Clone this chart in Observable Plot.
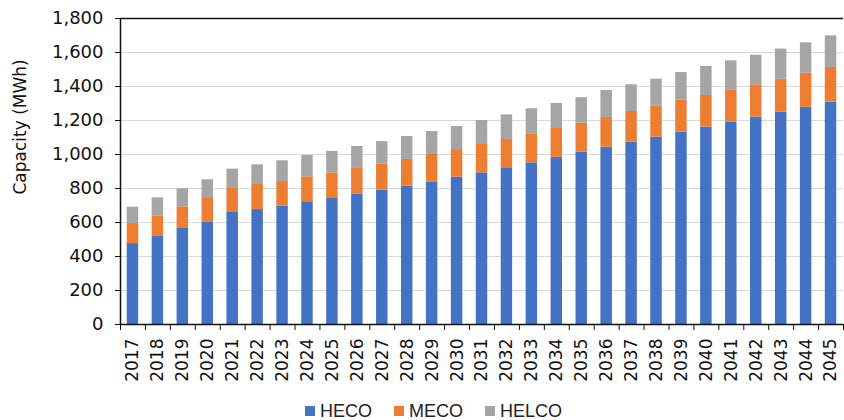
<!DOCTYPE html>
<html>
<head>
<meta charset="utf-8">
<script src="https://cdn.jsdelivr.net/npm/d3@7"></script>
<script src="https://cdn.jsdelivr.net/npm/@observablehq/plot@0.6"></script>
<style>
  body { margin: 0; background: #fff; }
  #chart { width: 844px; height: 420px; position: relative; }
  .legend { display: flex; align-items: center; height: 18px; padding-top: 2px;
            position: absolute; top: 400px; left: 305px;
            font-family: "Liberation Sans", Arial, sans-serif; font-size: 18px; color: #222; }
  .legend .item { display: flex; align-items: center; margin-right: 22px; }
  .legend .sw { width: 10px; height: 10px; margin-right: 5px; }
</style>
</head>
<body>
<div id="chart"></div>
<script>
const years = ["2017","2018","2019","2020","2021","2022","2023","2024","2025","2026","2027","2028","2029","2030","2031","2032","2033","2034","2035","2036","2037","2038","2039","2040","2041","2042","2043","2044","2045"];
const seriesNames = ["HECO", "MECO", "HELCO"];
const seriesColors = ["#4472C4", "#ED7D31", "#A5A5A5"];
const heco  = [476,518,565,604,659,676,696,722,741,767,790,814,839,867,892,922,951,984,1014,1043,1073,1102,1131,1161,1190,1220,1249,1278,1308];
const meco  = [118,119,127,137,141,148,145,147,151,151,155,157,161,162,167,166,171,169,171,175,180,182,188,186,190,190,194,200,204];
const helco = [96,108,106,110,114,115,122,125,126,129,131,135,135,136,141,145,147,147,149,158,157,159,163,171,171,174,177,179,186];
const yTicks = [0,200,400,600,800,1000,1200,1400,1600,1800];
const yLabel = "Capacity (MWh)";

const seriesValues = [heco, meco, helco];
const table = [];
seriesNames.forEach((s, k) => years.forEach((y, i) => table.push({year: y, series: s, value: seriesValues[k][i]})));

const W = 844, mL = 120, mR = 1;
const half = (W - mL - mR) / years.length / 2;

const plot = Plot.plot({
  width: W,
  height: 390,
  marginTop: 18,
  marginBottom: 66,
  marginLeft: mL,
  marginRight: mR,
  style: {fontFamily: "DejaVu Sans, sans-serif", fontSize: "18px", color: "#111", background: "#fff"},
  x: {domain: years, paddingInner: 0.54, paddingOuter: 0.27, round: false, label: null},
  y: {domain: [0, 1800], ticks: yTicks, label: null},
  color: {domain: seriesNames, range: seriesColors},
  marks: [
    Plot.gridY(yTicks.slice(1, -1), {stroke: "#d9d9d9", strokeOpacity: 1, strokeWidth: 1.2}),
    Plot.barY(table, {x: "year", y: "value", fill: "series", order: seriesNames}),
    Plot.ruleY([1800], {stroke: "#111", strokeWidth: 1.5}),
    Plot.ruleY([0], {stroke: "#111", strokeWidth: 1.5}),
    Plot.ruleX([years[0]], {dx: -half, y1: 0, y2: 1800, stroke: "#111", strokeWidth: 1.5}),
    Plot.axisY({ticks: yTicks, tickSize: 5, tickPadding: 12, tickFormat: d3.format(","), label: null, fontSize: 18}),
    Plot.axisX({tickSize: 6, dx: -half, tickFormat: () => "", label: null}),
    Plot.axisX({ticks: [years[years.length - 1]], tickSize: 6, dx: half, tickFormat: () => "", label: null}),
    Plot.axisX({tickSize: 0, tickPadding: 14, tickRotate: -90, fontSize: 17, label: null}),
    Plot.text([yLabel], {frameAnchor: "left", rotate: -90, dx: -100, dy: 23, fontSize: 17, fill: "#111"})
  ]
});

const chart = document.getElementById("chart");
chart.appendChild(plot);

const legend = document.createElement("div");
legend.className = "legend";
seriesNames.forEach((s, i) => {
  const item = document.createElement("div");
  item.className = "item";
  const sw = document.createElement("div");
  sw.className = "sw";
  sw.style.background = seriesColors[i];
  const lab = document.createElement("span");
  lab.textContent = s;
  item.appendChild(sw);
  item.appendChild(lab);
  legend.appendChild(item);
});
chart.appendChild(legend);
</script>
</body>
</html>
